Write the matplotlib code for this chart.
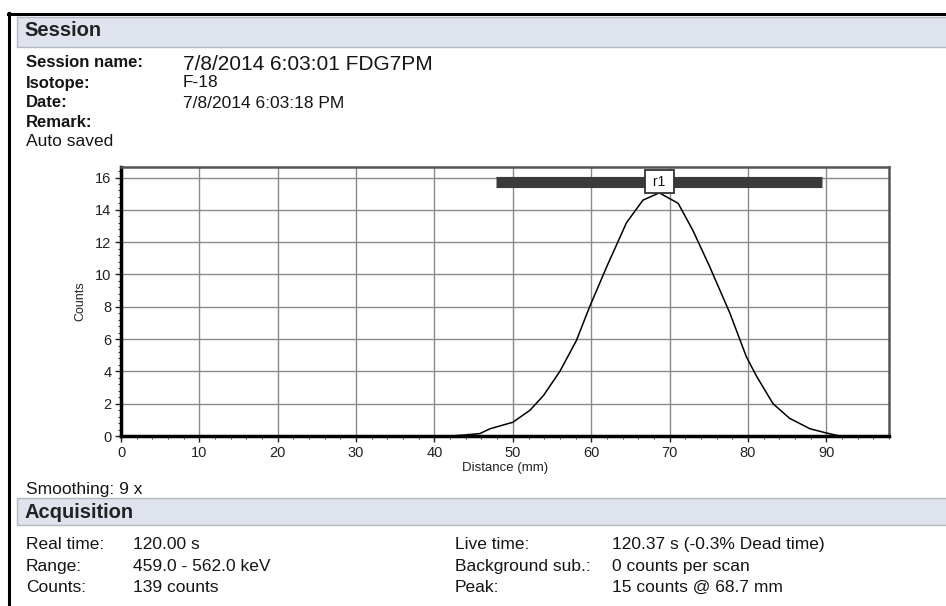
import matplotlib
matplotlib.use("Agg")
import matplotlib.pyplot as plt
from matplotlib.patches import Rectangle
from matplotlib.lines import Line2D
from matplotlib.ticker import MultipleLocator

# ---------------- data ----------------
distance_mm = [0, 42, 43.5, 45.8, 47.1, 50, 52.2, 53.9, 56, 58.1, 59.8, 62, 64.5,
               66.6, 68.7, 71.1, 73, 75.1, 77.7, 79.8, 81.1, 83.2, 85.3, 87.9,
               89.9, 91.7]
counts = [0, 0, 0.05, 0.15, 0.45, 0.85, 1.6, 2.5, 4.0, 5.9, 8.0, 10.5, 13.2,
          14.6, 15.05, 14.4, 12.7, 10.5, 7.6, 4.9, 3.7, 2.0, 1.1, 0.45,
          0.2, 0.0]
region_label = "r1"
region_start = 47.8
region_end = 89.5
region_level = 15.75
peak_pos = 68.7
x_ticks = [0, 10, 20, 30, 40, 50, 60, 70, 80, 90]
y_ticks = [0, 2, 4, 6, 8, 10, 12, 14, 16]

session_labels = ["Session name:", "Isotope:", "Date:", "Remark:"]
session_values = ["7/8/2014 6:03:01 FDG7PM", "F-18", "7/8/2014 6:03:18 PM", ""]
remark_text = "Auto saved"
smoothing_text = "Smoothing: 9 x"
acq_left_labels = ["Real time:", "Range:", "Counts:"]
acq_left_values = ["120.00 s", "459.0 - 562.0 keV", "139 counts"]
acq_right_labels = ["Live time:", "Background sub.:", "Peak:"]
acq_right_values = ["120.37 s (-0.3% Dead time)", "0 counts per scan",
                    "15 counts @ 68.7 mm"]

# ---------------- figure ----------------
W, H = 946, 606
plt.rcParams['font.family'] = ['Liberation Sans', 'DejaVu Sans']
fig = plt.figure(figsize=(W / 100, H / 100), dpi=100)
fig.patch.set_facecolor("white")

TXT = "#151515"


def fx(px):
    return px / W


def fy(py):
    return 1 - py / H


def ftext(x, y, s, **kw):
    kw.setdefault("va", "baseline")
    kw.setdefault("ha", "left")
    kw.setdefault("color", TXT)
    fig.text(fx(x), fy(y), s, **kw)


# page border (top and left)
fig.add_artist(Line2D([fx(8), fx(946)], [fy(13.5), fy(13.5)], color="black",
                      lw=2.2, transform=fig.transFigure))
fig.add_artist(Line2D([fx(9), fx(9)], [fy(12.5), fy(606)], color="black",
                      lw=2.2, transform=fig.transFigure))

# section bands
band_color = "#dfe3ee"
for top, bot in [(17, 47), (498, 525)]:
    fig.add_artist(Rectangle((fx(17), fy(bot)), fx(946) - fx(17) + 0.01,
                             fy(top) - fy(bot), transform=fig.transFigure,
                             facecolor=band_color, edgecolor="#b5b8bf", lw=1))

ftext(24, 36, "Session", fontsize=14.5, fontweight="bold", color="#222222")
ftext(24, 518, "Acquisition", fontsize=14.5, fontweight="bold", color="#222222")

# session rows
label_base = [67, 88, 107, 127]
value_base = [70, 87, 108, 127]
value_sizes = [15, 12.5, 12.5, 12.5]
for lab, val, lb, vb, vs in zip(session_labels, session_values, label_base,
                                value_base, value_sizes):
    ftext(26, lb, lab, fontsize=12, fontweight="bold")
    if val:
        ftext(183, vb, val, fontsize=vs)
ftext(26, 146, remark_text, fontsize=12.5)
ftext(26, 494, smoothing_text, fontsize=12.5)

# acquisition rows
row_base = [549, 571, 592]
for i, rb in enumerate(row_base):
    ftext(26, rb, acq_left_labels[i], fontsize=12.5)
    ftext(133, rb, acq_left_values[i], fontsize=12.5)
    ftext(455, rb, acq_right_labels[i], fontsize=12.5)
    ftext(612, rb, acq_right_values[i], fontsize=12.5)

# ---------------- axes ----------------
ax_l, ax_r, ax_t, ax_b = 121, 889, 167, 436
ax = fig.add_axes([fx(ax_l), fy(ax_b), fx(ax_r) - fx(ax_l), fy(ax_t) - fy(ax_b)])
ax.set_xlim(0, 98)
ax.set_ylim(0, 16.65)
ax.set_xticks(x_ticks)
ax.set_yticks(y_ticks)
ax.xaxis.set_minor_locator(MultipleLocator(2))
ax.yaxis.set_minor_locator(MultipleLocator(0.4))
ax.tick_params(axis="both", which="major", direction="out", length=4,
               width=1, labelsize=10.5, colors="#222222", pad=3)
ax.tick_params(axis="both", which="minor", direction="out", length=2.5,
               width=0.8, colors="#444444")
ax.tick_params(top=False, right=False, which="both")
ax.grid(True, which="major", color="#8a8a8a", lw=1)
ax.set_axisbelow(True)
for side in ["left", "bottom"]:
    ax.spines[side].set_color("black")
    ax.spines[side].set_linewidth(2.5)
for side in ["top", "right"]:
    ax.spines[side].set_color("#555555")
    ax.spines[side].set_linewidth(1.8)

ax.plot(distance_mm, counts, color="black", lw=1.1, zorder=3)

# region bar with label
ax.plot([region_start, region_end], [region_level, region_level],
        color="#3a3a3a", lw=8, solid_capstyle="butt", zorder=4)
ax.text(peak_pos, region_level, f" {region_label} ", ha="center", va="center",
        fontsize=10, color="#111111", zorder=6,
        bbox=dict(boxstyle="square,pad=0.3", facecolor="white",
                  edgecolor="#333333", lw=1.3))

ax.set_xlabel("Distance (mm)", fontsize=9.5, labelpad=2, color="#222222")
ax.set_ylabel("Counts", fontsize=9, labelpad=6, color="#222222")

fig.savefig("out.png", dpi=100, facecolor="white")
